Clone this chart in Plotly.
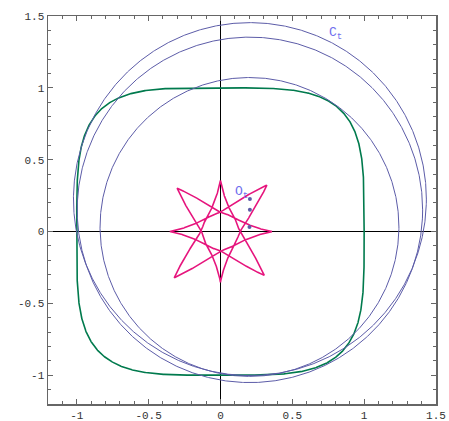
import numpy as np
import plotly.graph_objects as go

# ---- data ----
superellipse_exponent = [4]                      # green curve |x|^n + |y|^n = 1
circle_cx = [0.205, 0.205, 0.202]                # centres O_t of circles C_t
circle_cy = [0.226, 0.151, 0.032]
circle_r = [1.228, 1.202, 1.040]
# star (8-cusp curve): tip radii at angles 0,45,...,315 degrees
star_tip_angles = [0, 45, 90, 135, 180, 225, 270, 315]
star_tip_radii = [0.359, 0.457, 0.355, 0.426, 0.352, 0.455, 0.353, 0.431]
star_R = [8]
star_r = [3]
x_tickvals = [-1, -0.5, 0, 0.5, 1, 1.5]
x_ticktext = ["-1", "-0.5", "0", "0.5", "1", "1.5"]
y_tickvals = [-1, -0.5, 0, 0.5, 1, 1.5]
y_ticktext = ["-1", "-0.5", "0", "0.5", "1", "1.5"]
labels = ["C<sub>t</sub>", "O<sub>t</sub>"]
label_x = [0.80, 0.145]
label_y = [1.38, 0.27]

GREEN = "#007a4d"
BLUE = "#5c5ca8"
PINK = "#e6157d"
LABEL = "#6f6fee"

fig = go.Figure()

# superellipse
n = superellipse_exponent[0]
th = np.linspace(0, 2 * np.pi, 1200)
c, s = np.cos(th), np.sin(th)
gx = np.sign(c) * np.abs(c) ** (2 / n)
gy = np.sign(s) * np.abs(s) ** (2 / n)
fig.add_trace(go.Scatter(x=gx, y=gy, mode="lines", line=dict(color=GREEN, width=1.6),
                         hoverinfo="skip", showlegend=False))

# circles C_t
for cx, cy, r in zip(circle_cx, circle_cy, circle_r):
    fig.add_trace(go.Scatter(x=cx + r * c, y=cy + r * s, mode="lines",
                             line=dict(color=BLUE, width=1), hoverinfo="skip", showlegend=False))

# star curve: hypocycloid-shaped edges, cusped at the axis tips, straight at the diagonal tips
R, r = star_R[0], star_r[0]
ang = np.array(star_tip_angles + [360])
rad = np.array(star_tip_radii + [star_tip_radii[0]])
sx, sy = [], []
step = 2 * np.pi * r / R            # parameter span between consecutive cusps
for k in range(8):
    u = np.linspace(0, 1, 300)
    t = (k + u) * step
    hx = ((R - r) * np.cos(t) + r * np.cos((R - r) / r * t)) / R
    hy = ((R - r) * np.sin(t) - r * np.sin((R - r) / r * t)) / R
    phi = np.degrees(np.arctan2(hy, hx)) % 360
    sc = np.interp(phi, ang, rad)
    hx, hy = hx * sc, hy * sc
    lx = (1 - u) * hx[0] + u * hx[-1]
    ly = (1 - u) * hy[0] + u * hy[-1]
    start_axial = (round(np.degrees(k * step)) % 90) == 0
    w = (1 - u) if start_axial else u
    sx.extend(list(w * hx + (1 - w) * lx))
    sy.extend(list(w * hy + (1 - w) * ly))
fig.add_trace(go.Scatter(x=sx, y=sy, mode="lines",
                         line=dict(color=PINK, width=1.6), hoverinfo="skip", showlegend=False))

# centres O_t
fig.add_trace(go.Scatter(x=circle_cx, y=circle_cy, mode="markers",
                         marker=dict(color=BLUE, size=4), hoverinfo="skip", showlegend=False))

for txt, lx_, ly_ in zip(labels, label_x, label_y):
    fig.add_annotation(x=lx_, y=ly_, text=txt, showarrow=False,
                       font=dict(family="Liberation Mono", size=13, color=LABEL))

axis_common = dict(
    showgrid=False, zeroline=True, zerolinecolor="black", zerolinewidth=1,
    showline=True, linecolor="#666666", linewidth=1.5, mirror="allticks",
    ticks="inside", ticklen=5, tickcolor="#666666", tickwidth=1,
    minor=dict(ticks="inside", dtick=0.1, ticklen=3, tickcolor="#666666", tickwidth=1),
    tickfont=dict(family="Liberation Mono", size=11, color="#333333"),
    fixedrange=True, automargin=False,
)
fig.update_xaxes(range=[-1.2, 1.5], tickvals=x_tickvals, ticktext=x_ticktext, **axis_common)
fig.update_yaxes(range=[-1.2, 1.5], tickvals=y_tickvals, ticktext=y_ticktext, **axis_common)

fig.update_layout(
    width=449, height=421,
    margin=dict(l=48, r=13, t=16, b=17),
    paper_bgcolor="white", plot_bgcolor="white",
    showlegend=False,
)
fig.write_html("out.html", config={"displayModeBar": False, "staticPlot": True},
               post_script="document.body.style.margin='0';document.body.style.overflow='hidden';")
